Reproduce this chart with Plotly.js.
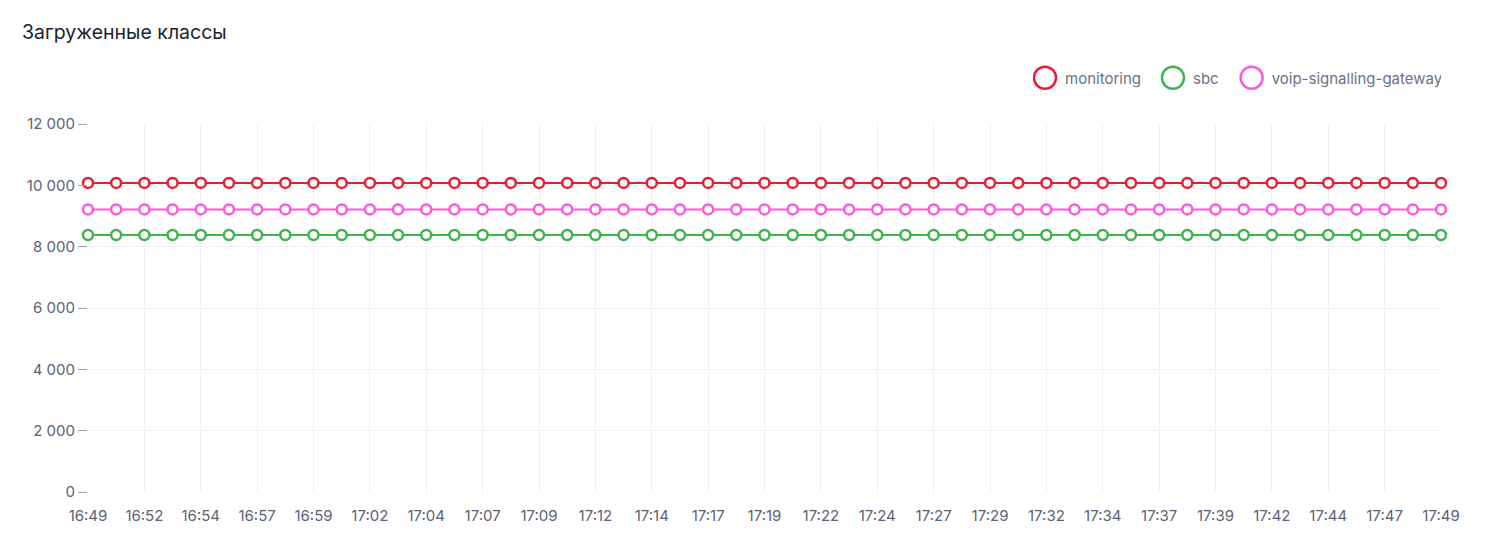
<!DOCTYPE html>
<html>
<head>
<meta charset="utf-8">
<script src="https://cdn.plot.ly/plotly-3.0.1.min.js"></script>
<style>html,body{margin:0;padding:0;background:#fff;}#chart{width:1495px;height:556px;}</style>
</head>
<body>
<div id="chart"></div>
<script>
const times = [
  "2024-01-01 16:49:30","2024-01-01 16:50:45","2024-01-01 16:52:00","2024-01-01 16:53:15","2024-01-01 16:54:30",
  "2024-01-01 16:55:45","2024-01-01 16:57:00","2024-01-01 16:58:15","2024-01-01 16:59:30","2024-01-01 17:00:45",
  "2024-01-01 17:02:00","2024-01-01 17:03:15","2024-01-01 17:04:30","2024-01-01 17:05:45","2024-01-01 17:07:00",
  "2024-01-01 17:08:15","2024-01-01 17:09:30","2024-01-01 17:10:45","2024-01-01 17:12:00","2024-01-01 17:13:15",
  "2024-01-01 17:14:30","2024-01-01 17:15:45","2024-01-01 17:17:00","2024-01-01 17:18:15","2024-01-01 17:19:30",
  "2024-01-01 17:20:45","2024-01-01 17:22:00","2024-01-01 17:23:15","2024-01-01 17:24:30","2024-01-01 17:25:45",
  "2024-01-01 17:27:00","2024-01-01 17:28:15","2024-01-01 17:29:30","2024-01-01 17:30:45","2024-01-01 17:32:00",
  "2024-01-01 17:33:15","2024-01-01 17:34:30","2024-01-01 17:35:45","2024-01-01 17:37:00","2024-01-01 17:38:15",
  "2024-01-01 17:39:30","2024-01-01 17:40:45","2024-01-01 17:42:00","2024-01-01 17:43:15","2024-01-01 17:44:30",
  "2024-01-01 17:45:45","2024-01-01 17:47:00","2024-01-01 17:48:15","2024-01-01 17:49:30"
];
const monitoring = [
  10080,10080,10080,10080,10080,10080,10080,10080,10080,10080,
  10080,10080,10080,10080,10080,10080,10080,10080,10080,10080,
  10080,10080,10080,10080,10080,10080,10080,10080,10080,10080,
  10080,10080,10080,10080,10080,10080,10080,10080,10080,10080,
  10080,10080,10080,10080,10080,10080,10080,10080,10080
];
const sbc = [
  8380,8380,8380,8380,8380,8380,8380,8380,8380,8380,
  8380,8380,8380,8380,8380,8380,8380,8380,8380,8380,
  8380,8380,8380,8380,8380,8380,8380,8380,8380,8380,
  8380,8380,8380,8380,8380,8380,8380,8380,8380,8380,
  8380,8380,8380,8380,8380,8380,8380,8380,8380
];
const voip = [
  9215,9215,9215,9215,9215,9215,9215,9215,9215,9215,
  9215,9215,9215,9215,9215,9215,9215,9215,9215,9215,
  9215,9215,9215,9215,9215,9215,9215,9215,9215,9215,
  9215,9215,9215,9215,9215,9215,9215,9215,9215,9215,
  9215,9215,9215,9215,9215,9215,9215,9215,9215
];
const seriesNames = ["monitoring","sbc","voip-signalling-gateway"];
const seriesColors = ["#ee1a33","#3db54f","#ff57dc"];
const seriesValues = [monitoring, sbc, voip];

const traces = [];
seriesValues.forEach((vals, i) => {
  traces.push({
    x: times, y: vals, type: "scatter", mode: "lines+markers",
    name: seriesNames[i], showlegend: false, cliponaxis: false,
    line: {color: seriesColors[i], width: 2},
    marker: {symbol: "circle", size: 10, color: "#ffffff", line: {color: seriesColors[i], width: 2.5}}
  });
});
seriesValues.forEach((vals, i) => {
  traces.push({
    x: [null], y: [null], type: "scatter", mode: "markers",
    name: seriesNames[i], showlegend: true, hoverinfo: "skip",
    marker: {symbol: "circle", size: 16, color: "#ffffff", line: {color: seriesColors[i], width: 1.8}}
  });
});

const layout = {
  width: 1495, height: 556,
  margin: {l: 88, r: 54, t: 124, b: 64},
  paper_bgcolor: "#ffffff", plot_bgcolor: "#ffffff",
  separators: ", ",
  font: {family: "Inter, sans-serif", size: 15, color: "#5b6275"},
  title: {text: "Загруженные классы", x: 22/1495, xanchor: "left", xref: "container", y: 1 - 32/556, yanchor: "middle", yref: "container",
          font: {family: "Inter, sans-serif", size: 19.5, color: "#1b1f2e"}},
  showlegend: true,
  legend: {orientation: "h", x: 1, xanchor: "right", y: 1.125, yanchor: "middle",
           font: {family: "Inter, sans-serif", size: 15, color: "#6b7185"},
           itemsizing: "trace", traceorder: "normal", itemwidth: 30},
  xaxis: {
    type: "date", range: [times[0], times[times.length - 1]],
    tickmode: "linear", tick0: times[0], dtick: 150000, tickformat: "%H:%M",
    showgrid: true, gridcolor: "#eff0f5", gridwidth: 1,
    zeroline: false, showline: false, ticks: "", ticklabelstandoff: 13,
    tickfont: {size: 15, color: "#5b6275"}
  },
  yaxis: {
    range: [0, 12000], tickmode: "linear", tick0: 0, dtick: 2000,
    tickformat: ",d",
    showgrid: true, gridcolor: "#eff0f5", gridwidth: 1,
    zeroline: false, showline: false,
    ticks: "outside", ticklen: 9, tickwidth: 1, tickcolor: "#9aa0ad",
    tickfont: {size: 15, color: "#5b6275"}
  },
  hovermode: "x"
};
Plotly.newPlot("chart", traces, layout, {displayModeBar: false, responsive: false}).then(() => {
  document.querySelectorAll("#chart .legend .legendpoints path.scatterpts").forEach(p => {
    const t = p.getAttribute("transform") || "";
    p.setAttribute("transform", t + " scale(1.375)");
  });
  const shifts = [-8, -1, 7];
  document.querySelectorAll("#chart .legend g.traces").forEach((g, i) => {
    const t = g.getAttribute("transform") || "";
    g.setAttribute("transform", t + " translate(" + (shifts[i] || 0) + ",0)");
  });
});
</script>
</body>
</html>
